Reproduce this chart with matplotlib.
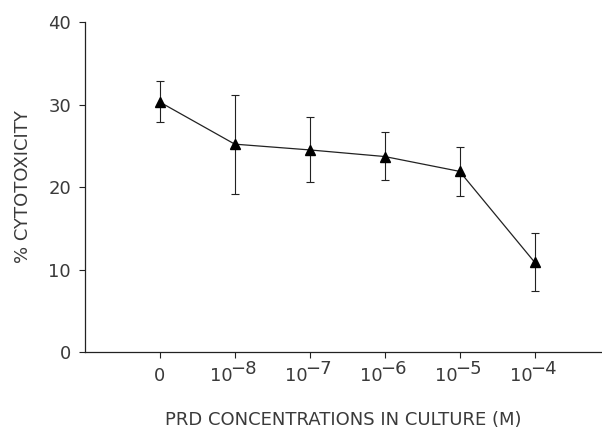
import matplotlib
matplotlib.use("Agg")
import matplotlib.pyplot as plt

plt.rcParams['font.family'] = ['DejaVu Sans']

# PRD concentration groups (base and exponent of each tick label)
label_base = ['0', '10', '10', '10', '10', '10']
label_exp = ['', '\u22128', '\u22127', '\u22126', '\u22125', '\u22124']
# Cytotoxicity: mean with upper and lower ends of the error bars
cytotoxicity = [30.3, 25.2, 24.5, 23.7, 21.9, 10.9]
err_upper = [32.9, 31.2, 28.5, 26.7, 24.9, 14.4]
err_lower = [27.9, 19.2, 20.6, 20.8, 18.9, 7.4]
y_ticks = [0, 10, 20, 30, 40]

ink = '#222222'
text_ink = '#3a3a3a'

fig = plt.figure(figsize=(6.02, 4.32), dpi=100)
ax = fig.add_axes([0.141, 0.185, 0.859, 0.764])

x = list(range(len(label_base)))
yerr = [[m - lo for m, lo in zip(cytotoxicity, err_lower)],
        [hi - m for m, hi in zip(cytotoxicity, err_upper)]]
ax.errorbar(x, cytotoxicity, yerr=yerr, fmt='none', ecolor=ink,
            elinewidth=0.8, capsize=3, capthick=0.8)
ax.plot(x, cytotoxicity, color=ink, linewidth=0.9, marker='^',
        markersize=7, markerfacecolor='black', markeredgecolor='black')

ax.set_xlim(-1, 5.9)
ax.set_ylim(0, 40)
ax.set_xticks(x)
ax.set_xticklabels([''] * len(x))
ax.set_yticks(y_ticks)

for side in ('top', 'right'):
    ax.spines[side].set_visible(False)
for side in ('left', 'bottom'):
    ax.spines[side].set_linewidth(0.9)
    ax.spines[side].set_color(ink)

ax.tick_params(axis='both', direction='out', length=4, width=0.8,
               colors=ink, labelsize=13, pad=6)
ax.tick_params(axis='y', labelcolor=text_ink)

# x tick labels: "10" with a full-size raised exponent
xt = ax.get_xaxis_transform()
for xi, base, ex in zip(x, label_base, label_exp):
    if ex:
        ax.annotate(base, (xi, 0), xycoords=xt, xytext=(-1.5, -21),
                    textcoords='offset points', ha='right', va='baseline',
                    fontsize=13, color=text_ink)
        ax.annotate(ex, (xi, 0), xycoords=xt, xytext=(-3, -15.5),
                    textcoords='offset points', ha='left', va='baseline',
                    fontsize=13, color=text_ink)
    else:
        ax.annotate(base, (xi, 0), xycoords=xt, xytext=(0, -21),
                    textcoords='offset points', ha='center', va='baseline',
                    fontsize=13, color=text_ink)

ax.set_xlabel('PRD CONCENTRATIONS IN CULTURE (M)', fontsize=13,
              color=text_ink, labelpad=0)
ax.xaxis.set_label_coords(0.5, -0.178)
ax.set_ylabel('% CYTOTOXICITY', fontsize=13, color=text_ink, labelpad=12)

fig.savefig('out.png', dpi=100)
